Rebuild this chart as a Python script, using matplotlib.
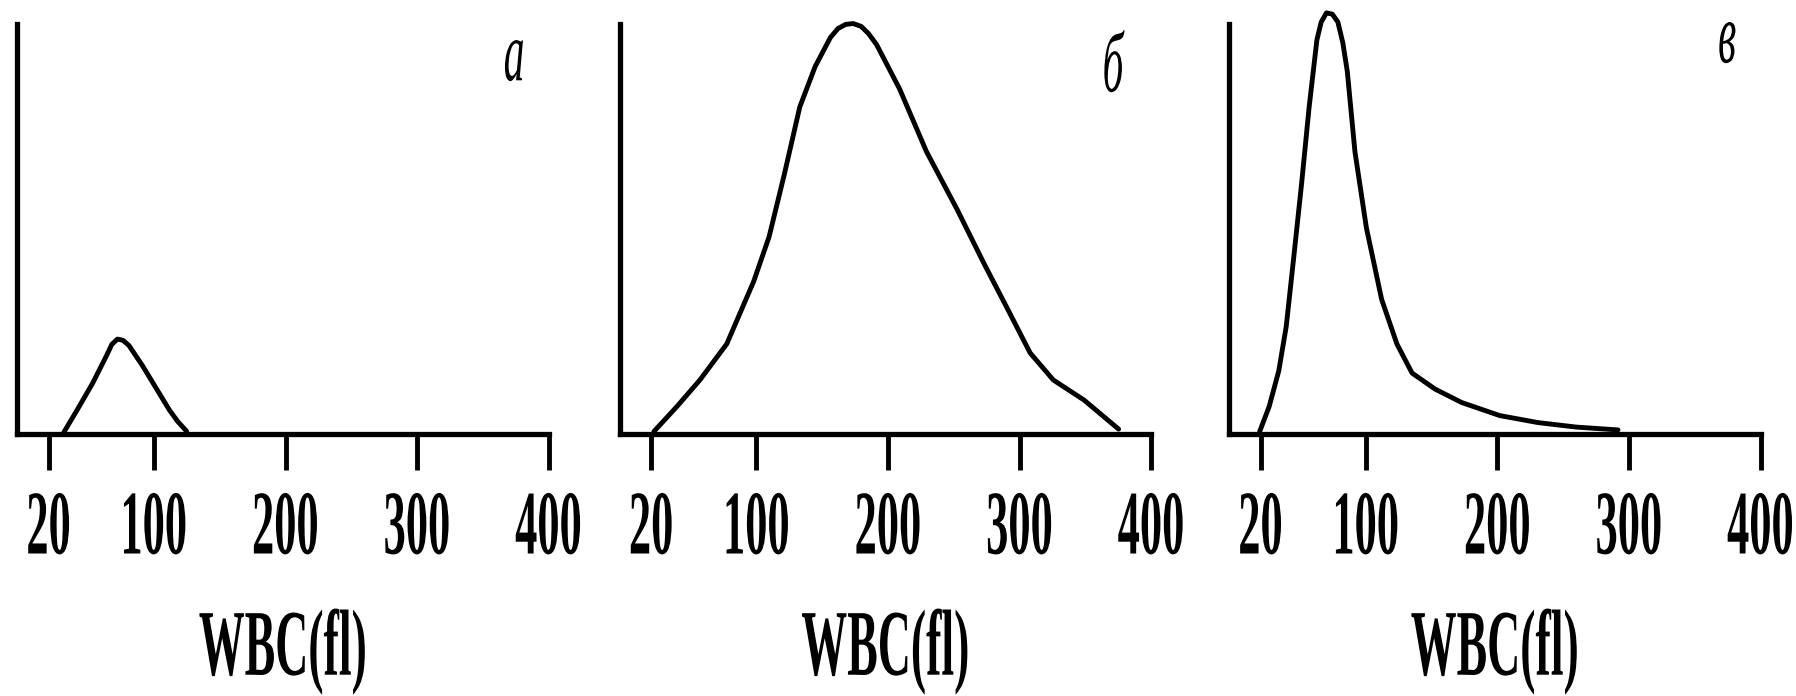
import matplotlib
matplotlib.use('Agg')
import matplotlib.pyplot as plt
from matplotlib.patheffects import AbstractPathEffect
from matplotlib.transforms import Affine2D

# WBC histograms (y = % of axis height)
a_x = [31.5, 41.7, 53.4, 63.6, 68.0, 72.3, 76.5, 81.1, 91.3, 101.5, 111.7, 118.0, 124.8]
a_y = [0.3, 5.8, 12.3, 18.8, 21.8, 23.1, 22.8, 21.5, 16.6, 11.2, 5.8, 3.0, 0.6]

b_x = [22.0, 39.5, 57.0, 77.4, 97.9, 109.6, 121.2, 132.9, 144.6, 156.2, 162.0, 167.9,
       173.5, 179.6, 185.0, 191.2, 208.8, 229.2, 252.6, 273.0, 290.6, 308.0, 325.6,
       348.9, 375.2]
b_y = [0.5, 6.6, 13.1, 21.9, 37.2, 48.1, 63.4, 79.8, 89.7, 96.8, 99.0, 100.0,
       100.2, 99.5, 97.8, 95.1, 84.2, 68.9, 54.7, 41.5, 30.6, 19.7, 13.1,
       8.2, 1.1]

c_x = [19.3, 26.5, 33.8, 39.5, 45.4, 51.2, 56.9, 62.8, 66.0, 70.0, 74.5, 78.7, 82.5,
       85.9, 91.7, 100.4, 112.0, 123.6, 135.1, 152.5, 172.8, 201.8, 230.7, 259.7, 291.6]
c_y = [0.5, 6.6, 15.3, 26.2, 43.7, 61.2, 79.8, 96.2, 100.5, 102.8, 102.5, 100.6, 95.5,
       88.5, 68.9, 50.3, 32.8, 21.9, 14.8, 10.9, 7.6, 4.4, 2.7, 1.6, 0.9]

ticks = [20, 100, 200, 300, 400]
letters = ['a', 'б', 'в']
xlabel = 'WBC(fl)'


class Tall(AbstractPathEffect):
    """stretch glyphs vertically about their centre (the source type is tall and narrow)"""
    def __init__(self, k=2.05):
        super().__init__()
        self.k = k

    def draw_path(self, renderer, gc, tpath, affine, rgbFace=None):
        ext = tpath.get_extents()
        cy = (ext.y0 + ext.y1) / 2
        st = Affine2D().translate(0, -cy).scale(1, self.k).translate(0, cy)
        renderer.draw_path(gc, tpath, st + affine, rgbFace)


font = 'Liberation Serif'
fig = plt.figure(figsize=(17.96, 6.96), dpi=100)

lefts = [0.0095, 0.345, 0.6843]
width = 0.296
bottom = 0.377
height = 0.588
letter_pos = [(0.935, 0.913), (0.928, 0.899), (0.937, 0.957)]

series = [(a_x, a_y), (b_x, b_y), (c_x, c_y)]

for i, (xs, ys) in enumerate(series):
    ax = fig.add_axes([lefts[i], bottom, width, height])
    ax.plot(xs, ys, color='black', lw=3.5, solid_joinstyle='round',
            solid_capstyle='round', clip_on=False)
    ax.set_xlim(-4, 400)
    ax.set_ylim(0, 100)
    for s in ['top', 'right']:
        ax.spines[s].set_visible(False)
    for s in ['left', 'bottom']:
        ax.spines[s].set_linewidth(3.8)
    ax.set_yticks([])
    ax.set_xticks(ticks)
    ax.set_xticklabels([str(t) for t in ticks], fontfamily=font, fontweight='bold',
                       fontsize=32, path_effects=[Tall()])
    ax.tick_params(axis='x', direction='out', length=26, width=3.5, pad=27)
    ax.set_xlabel(xlabel, fontfamily=font, fontweight='bold', fontsize=33,
                  labelpad=60, path_effects=[Tall()])
    ax.text(letter_pos[i][0], letter_pos[i][1], letters[i], transform=ax.transAxes,
            ha='center', va='center', fontfamily=font, fontstyle='italic',
            fontsize=30, path_effects=[Tall()])

fig.savefig('out.png', dpi=100, facecolor='white')
